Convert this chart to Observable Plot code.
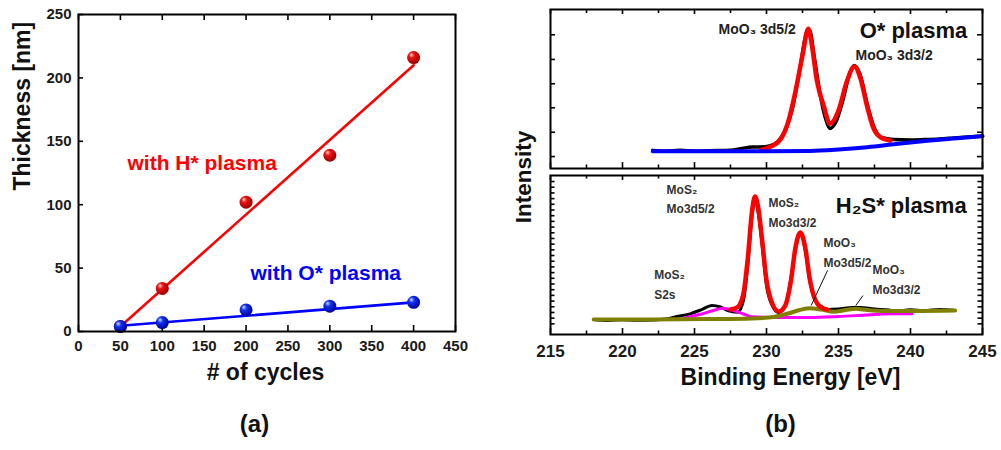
<!DOCTYPE html>
<html><head><meta charset="utf-8">
<script src="https://cdn.jsdelivr.net/npm/d3@7"></script>
<script src="https://cdn.jsdelivr.net/npm/@observablehq/plot@0.6"></script>
<style>
body{margin:0;background:#fff;}
#root{position:relative;width:1001px;height:450px;overflow:hidden;font-family:"Liberation Sans",Arial,sans-serif;background:#fff;}
.pane{position:absolute;}
#ylab{position:absolute;left:524px;top:177px;transform:translate(-50%,-50%) rotate(-90deg);font-size:22.5px;font-weight:bold;color:#111;white-space:nowrap;}
</style></head><body><div id="root"><div id="ylab">Intensity</div></div>
<script>
// ---------- Panel (a) data ----------
const cycles = [50, 100, 200, 300, 400];
const thicknessH = [4, 34, 102, 139, 216];
const thicknessO = [4, 7, 17, 20, 23];
const fitCycles = [50, 400];
const fitH = [4, 210];
const fitO = [4.5, 23];
const aXTicks = [0, 50, 100, 150, 200, 250, 300, 350, 400, 450];
const aYTicks = [0, 50, 100, 150, 200, 250];
const labelH = "with H* plasma";
const labelO = "with O* plasma";

// ---------- Panel (b) data : O* plasma (top) ----------
const topBlackE = [222.1,223,224,225,226,227.5,228.3,229,229.6,230.2,230.8,231.3,231.8,232.3,232.8,233.0,233.3,233.7,234.1,234.4,234.8,235.3,235.8,236.1,236.5,237.0,237.5,238.0,238.8,240,241,242,243,244,245];
const topBlackI = [11.4,10.9,11.5,10.9,11.2,11.5,12.6,13.5,13.5,14.2,17.0,23.9,37.7,61.6,85.5,86.8,71.1,47.8,31.4,25.2,28.9,42.8,60.4,64.8,59.1,40.3,25.2,19.5,18.2,17.9,18.2,18.6,19.2,19.8,20.4];
const topFitE = [229.6,230.3,231.0,231.5,232.0,232.5,232.9,233.1,233.5,234.0,234.4,235.0,235.6,236.1,236.5,237.0,237.4,237.9,238.6];
const topFitI = [11.6,13.8,18.7,29.1,48.0,71.1,87.9,80.5,55.3,38.6,28.1,36.5,55.3,64.1,57.4,38.6,26.0,19.7,17.6];
const topBgE = [222.1,226,230,233,235,237,239,241,243,245];
const topBgI = [10.9,10.9,10.9,11.0,11.9,13.4,15.4,17.3,18.9,20.3];

// ---------- Panel (b) data : H2S* plasma (bottom) ----------
const botBlackE = [218,219,220,221,222,223,223.6,224.7,225.5,226.2,226.8,227.3,228.0,228.4,228.7,229.0,229.2,229.4,229.7,230.0,230.4,230.85,231.3,231.7,232.0,232.35,232.7,233.0,233.4,233.8,234.3,235,236,236.5,237.5,238.5,239,240,241,242,243];
const botBlackI = [9.4,8.8,9.3,8.9,9.1,9.7,10.9,13.0,15.7,18.2,17.3,15.1,14.0,21.4,43.4,74.8,85.5,78.0,56.0,30.8,18.2,13.8,18.2,35.2,52.8,63.5,52.8,34.0,21.4,17.6,15.7,16.0,17.0,17.0,16.0,15.4,14.6,15.6,14.9,15.8,15.2];
const botFitE = [227.5,228.0,228.4,228.7,229.0,229.2,229.4,229.7,230.0,230.4,230.85,231.3,231.7,232.0,232.35,232.7,233.0,233.4,233.8,234.2];
const botFitI = [15.7,17.3,25.8,47.8,78.0,86.8,81.1,59.1,34.0,19.5,14.5,18.2,34.0,54.1,64.1,54.1,35.2,21.4,17.0,15.7];
const botS2sE = [224.3,225.5,226.3,227.0,227.7,228.4,229.0,231,233,235,237,238.6,240.1];
const botS2sI = [10.4,12.9,15.1,16.5,15.1,12.9,11.1,10.7,10.7,11.3,12.3,13.0,13.0];
const botMoO3E = [218.0,222,226,229,230.5,231.5,232.3,233.0,233.8,234.7,235.5,236.2,237,238.1,240,243.1];
const botMoO3I = [9.4,9.4,9.7,10.1,11.0,13.2,15.4,16.5,15.7,14.3,15.4,16.2,15.4,14.8,14.8,15.1];

const bMajor = [215, 220, 225, 230, 235, 240, 245];
const bMinor = [217.5, 222.5, 227.5, 232.5, 237.5, 242.5];
const topYTicks = [7.5, 22.8, 38.2, 53.3, 68.6, 84.1];
const botYTicks = d3.range(6.7, 99, 3.58);

// annotations (position in data units, text)
const topNotes = [
  {e: 226.67, v: 87.4, t: "MoO\u2083 3d5/2"},
  {e: 236.18, v: 71.1, t: "MoO\u2083 3d3/2"}
];
const botNotes = [
  {e: 223.06, v: 90.6, t: "MoS\u2082"}, {e: 223.06, v: 78.6, t: "Mo3d5/2"},
  {e: 230.14, v: 82.4, t: "MoS\u2082"}, {e: 230.14, v: 69.8, t: "Mo3d3/2"},
  {e: 233.96, v: 57.2, t: "MoO\u2083"}, {e: 233.96, v: 44.7, t: "Mo3d5/2"},
  {e: 237.36, v: 40.3, t: "MoO\u2083"}, {e: 237.36, v: 27.7, t: "Mo3d3/2"},
  {e: 222.2, v: 37.1, t: "MoS\u2082"}, {e: 222.2, v: 24.5, t: "S2s"}
];
const leaders = [
  {e1: 234.24, v1: 40.3, e2: 233.1, v2: 18.2},
  {e1: 236.7, v1: 24.5, e2: 236.2, v2: 18.2}
];

const rows = (xs, ys) => xs.map((x, i) => ({x, y: ys[i]}));
const FONT = '"Liberation Sans", Arial, sans-serif';

function addSphere(svg, id, light, base, dark) {
  let defs = d3.select(svg).select("defs");
  if (defs.empty()) defs = d3.select(svg).insert("defs", ":first-child");
  const g = defs.append("radialGradient").attr("id", id)
    .attr("cx", "40%").attr("cy", "38%").attr("r", "62%").attr("fx", "32%").attr("fy", "28%");
  g.append("stop").attr("offset", "0%").attr("stop-color", light);
  g.append("stop").attr("offset", "35%").attr("stop-color", base);
  g.append("stop").attr("offset", "100%").attr("stop-color", dark);
}

const root = document.getElementById("root");

// ---------- Panel (a) ----------
{
  const iw = 377, ih = 317;
  const svg = Plot.plot({
    width: 500, height: 450,
    marginLeft: 78, marginRight: 45, marginTop: 14, marginBottom: 119,
    style: {fontFamily: FONT, color: "#1a1a1a", background: "transparent"},
    x: {domain: [0, 450]},
    y: {domain: [0, 250]},
    marks: [
      Plot.tickX(aXTicks, {x: d => d, insetTop: ih - 6, stroke: "#000", strokeWidth: 1.6}),
      Plot.tickX(aXTicks, {x: d => d, insetBottom: ih - 6, stroke: "#000", strokeWidth: 1.6}),
      Plot.tickY(aYTicks, {y: d => d, insetRight: iw - 5, stroke: "#000", strokeWidth: 1.6}),
      Plot.axisX(aXTicks, {tickSize: 0, tickPadding: 9, fontSize: 15, fontWeight: "bold", label: null}),
      Plot.axisY(aYTicks, {tickSize: 0, tickPadding: 7, fontSize: 15, fontWeight: "bold", label: null}),
      Plot.line(rows(fitCycles, fitH), {x: "x", y: "y", stroke: "#ff0000", strokeWidth: 2.6}),
      Plot.line(rows(fitCycles, fitO), {x: "x", y: "y", stroke: "#0000ff", strokeWidth: 2.6}),
      Plot.dot(rows(cycles, thicknessH), {x: "x", y: "y", r: 6.5, fill: "url(#sphRed)", stroke: "none"}),
      Plot.dot(rows(cycles, thicknessO), {x: "x", y: "y", r: 6.5, fill: "url(#sphBlue)", stroke: "none"}),
      Plot.text([labelH], {x: 58.5, y: 132.5, text: d => d, textAnchor: "start", fill: "#ff0000", fontSize: 21, fontWeight: "bold"}),
      Plot.text([labelO], {x: 205.3, y: 46.3, text: d => d, textAnchor: "start", fill: "#0000ff", fontSize: 21, fontWeight: "bold"}),
      Plot.frame({stroke: "#000", strokeWidth: 2}),
      Plot.text(["Thickness [nm]"], {frameAnchor: "left", dx: -56, dy: 17.5, rotate: -90, text: d => d, fontSize: 23, fontWeight: "bold", fill: "#111"}),
      Plot.text(["# of cycles"], {frameAnchor: "bottom", dx: -1.5, dy: 48, text: d => d, fontSize: 23, fontWeight: "bold", fill: "#111"}),
      Plot.text(["(a)"], {frameAnchor: "bottom", dx: -12.5, dy: 100, text: d => d, fontSize: 24, fontWeight: "bold", fill: "#111"})
    ]
  });
  addSphere(svg, "sphRed", "#ffd0d0", "#ee1111", "#990000");
  addSphere(svg, "sphBlue", "#d0d8ff", "#1133ee", "#000099");
  svg.classList.add("pane");
  svg.style.left = "0px"; svg.style.top = "0px";
  root.appendChild(svg);
}

// ---------- Panel (b) top: O* plasma ----------
{
  const iw = 432, ih = 159;
  const svg = Plot.plot({
    width: 501, height: 170,
    marginLeft: 50, marginRight: 19, marginTop: 9, marginBottom: 2,
    style: {fontFamily: FONT, color: "#1a1a1a", background: "transparent"},
    x: {domain: [215, 245], axis: null},
    y: {domain: [0, 100], axis: null},
    marks: [
      Plot.tickX(bMajor, {x: d => d, insetBottom: ih - 5, stroke: "#000", strokeWidth: 1.6}),
      Plot.tickX(bMinor, {x: d => d, insetBottom: ih - 4, stroke: "#000", strokeWidth: 1.6}),
      Plot.tickX(bMajor, {x: d => d, insetTop: ih - 6, stroke: "#000", strokeWidth: 1.6}),
      Plot.tickX(bMinor, {x: d => d, insetTop: ih - 3.5, stroke: "#000", strokeWidth: 1.6}),
      Plot.tickY(topYTicks, {y: d => d, insetRight: iw - 5, stroke: "#000", strokeWidth: 1.6}),
      Plot.tickY(topYTicks, {y: d => d, insetLeft: iw - 5, stroke: "#000", strokeWidth: 1.6}),
      Plot.line(rows(topBlackE, topBlackI), {x: "x", y: "y", stroke: "#000", strokeWidth: 3.5, curve: "monotone-x"}),
      Plot.line(rows(topFitE, topFitI), {x: "x", y: "y", stroke: "#ff0000", strokeWidth: 4.5, curve: "monotone-x"}),
      Plot.line(rows(topBgE, topBgI), {x: "x", y: "y", stroke: "#0000ff", strokeWidth: 4, curve: "monotone-x"}),
      Plot.text(topNotes, {x: "e", y: "v", text: "t", textAnchor: "start", fontSize: 14, fontWeight: "bold", fill: "#222"}),
      Plot.text(["O* plasma"], {x: 243.94, y: 86.8, text: d => d, textAnchor: "end", fontSize: 22, fontWeight: "bold", fill: "#111"}),
      Plot.frame({stroke: "#000", strokeWidth: 2})
    ]
  });
  svg.classList.add("pane");
  svg.style.left = "500px"; svg.style.top = "0px";
  root.appendChild(svg);
}

// ---------- Panel (b) bottom: H2S* plasma ----------
{
  const iw = 432, ih = 159;
  const svg = Plot.plot({
    width: 501, height: 280,
    marginLeft: 50, marginRight: 19, marginTop: 5, marginBottom: 116,
    style: {fontFamily: FONT, color: "#1a1a1a", background: "transparent"},
    x: {domain: [215, 245]},
    y: {domain: [0, 100], axis: null},
    marks: [
      Plot.tickX(bMajor, {x: d => d, insetBottom: ih - 5, stroke: "#000", strokeWidth: 1.6}),
      Plot.tickX(bMinor, {x: d => d, insetBottom: ih - 3.5, stroke: "#000", strokeWidth: 1.6}),
      Plot.tickX(bMajor, {x: d => d, insetTop: ih - 6, stroke: "#000", strokeWidth: 1.6}),
      Plot.tickX(bMinor, {x: d => d, insetTop: ih - 3.5, stroke: "#000", strokeWidth: 1.6}),
      Plot.tickY(botYTicks, {y: d => d, insetRight: iw - 4.5, stroke: "#000", strokeWidth: 1.6}),
      Plot.tickY(botYTicks, {y: d => d, insetLeft: iw - 4.5, stroke: "#000", strokeWidth: 1.6}),
      Plot.axisX(bMajor, {tickSize: 0, tickPadding: 10, fontSize: 17, fontWeight: "bold", label: null}),
      Plot.line(rows(botBlackE, botBlackI), {x: "x", y: "y", stroke: "#000", strokeWidth: 3, curve: "monotone-x"}),
      Plot.line(rows(botS2sE, botS2sI), {x: "x", y: "y", stroke: "#ff00ff", strokeWidth: 3, curve: "monotone-x"}),
      Plot.line(rows(botMoO3E, botMoO3I), {x: "x", y: "y", stroke: "#808000", strokeWidth: 4, curve: "monotone-x"}),
      Plot.line(rows(botFitE, botFitI), {x: "x", y: "y", stroke: "#ff0000", strokeWidth: 4.5, curve: "monotone-x"}),
      Plot.link(leaders, {x1: "e1", y1: "v1", x2: "e2", y2: "v2", stroke: "#111", strokeWidth: 1}),
      Plot.text(botNotes, {x: "e", y: "v", text: "t", textAnchor: "start", fontSize: 12, fontWeight: "bold", fill: "#333"}),
      Plot.text(["H\u2082S* plasma"], {x: 243.9, y: 81.1, text: d => d, textAnchor: "end", fontSize: 22, fontWeight: "bold", fill: "#111"}),
      Plot.frame({stroke: "#000", strokeWidth: 2}),
      Plot.text(["Binding Energy [eV]"], {frameAnchor: "bottom", dx: 24, dy: 50, text: d => d, fontSize: 23, fontWeight: "bold", fill: "#111"}),
      Plot.text(["(b)"], {frameAnchor: "bottom", dx: 14, dy: 97, text: d => d, fontSize: 24, fontWeight: "bold", fill: "#111"})
    ]
  });
  svg.classList.add("pane");
  svg.style.left = "500px"; svg.style.top = "170px";
  root.appendChild(svg);
}
</script></body></html>
